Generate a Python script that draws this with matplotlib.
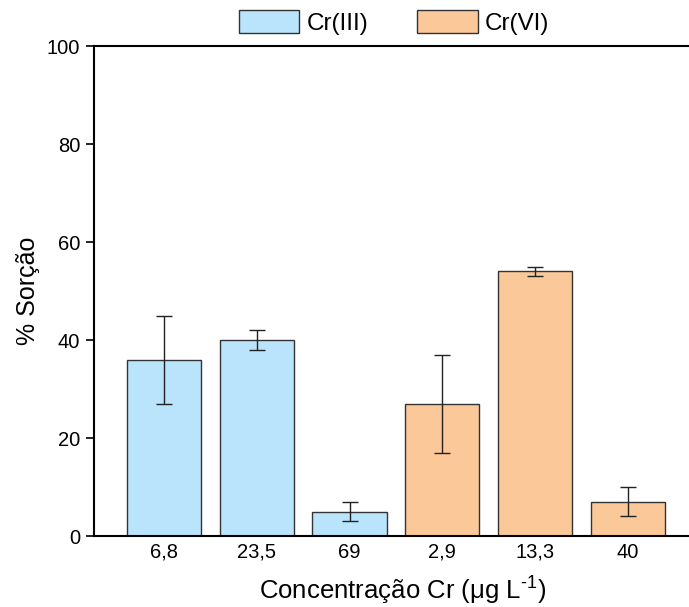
import matplotlib
matplotlib.use("Agg")
import matplotlib.pyplot as plt
from matplotlib.patches import Patch

plt.rcParams['font.family'] = ['Liberation Sans', 'DejaVu Sans']
plt.rcParams['mathtext.fontset'] = 'custom'
plt.rcParams['mathtext.rm'] = 'Liberation Sans'

categories = ["6,8", "23,5", "69", "2,9", "13,3", "40"]
series = ["Cr(III)", "Cr(III)", "Cr(III)", "Cr(VI)", "Cr(VI)", "Cr(VI)"]
values = [36, 40, 5, 27, 54, 7]
errors = [9, 2, 2, 10, 1, 3]
colors = {"Cr(III)": "#B9E4FC", "Cr(VI)": "#FBC899"}

fig = plt.figure(figsize=(6.89, 6.07), dpi=100)
ax = fig.add_axes([94/689, 71/607, 595/689, 490/607])

x = list(range(len(categories)))
ax.bar(x, values, width=0.8, color=[colors[s] for s in series],
       edgecolor="#333333", linewidth=1.0, zorder=2)
ax.errorbar(x, values, yerr=errors, fmt='none', ecolor="#222222",
            elinewidth=1.0, capsize=6, capthick=1.0, zorder=3)

ax.set_xlim(-0.755, 5.66)
ax.set_ylim(0, 100)
ax.set_yticks([0, 20, 40, 60, 80, 100])
ax.set_xticks(x)
ax.set_xticklabels(categories)
ax.tick_params(axis='x', length=0, labelsize=14.5, pad=5)
ax.tick_params(axis='y', direction='out', length=6, width=1.2, labelsize=14.5, pad=4)
ax.spines['right'].set_visible(False)
for s in ['left', 'top', 'bottom']:
    ax.spines[s].set_linewidth(1.5)
    ax.spines[s].set_color('black')

ax.set_ylabel("% Sorção", fontsize=18, labelpad=5)
ax.set_xlabel("Concentração Cr (\u03bcg L$^{\\text{-1}}$)", fontsize=18.5, labelpad=9)
ax.xaxis.set_label_coords(0.518, -0.075)

handles = [Patch(facecolor=colors["Cr(III)"], edgecolor="#333333", label="Cr(III)"),
           Patch(facecolor=colors["Cr(VI)"], edgecolor="#333333", label="Cr(VI)")]
fig.legend(handles=handles, loc='center', bbox_to_anchor=(0.572, 0.963), ncol=2,
           frameon=False, fontsize=17.5, handlelength=2.5, handleheight=1.1,
           handletextpad=0.3, columnspacing=2.0, borderpad=0.2)

fig.savefig("out.png", dpi=100)
